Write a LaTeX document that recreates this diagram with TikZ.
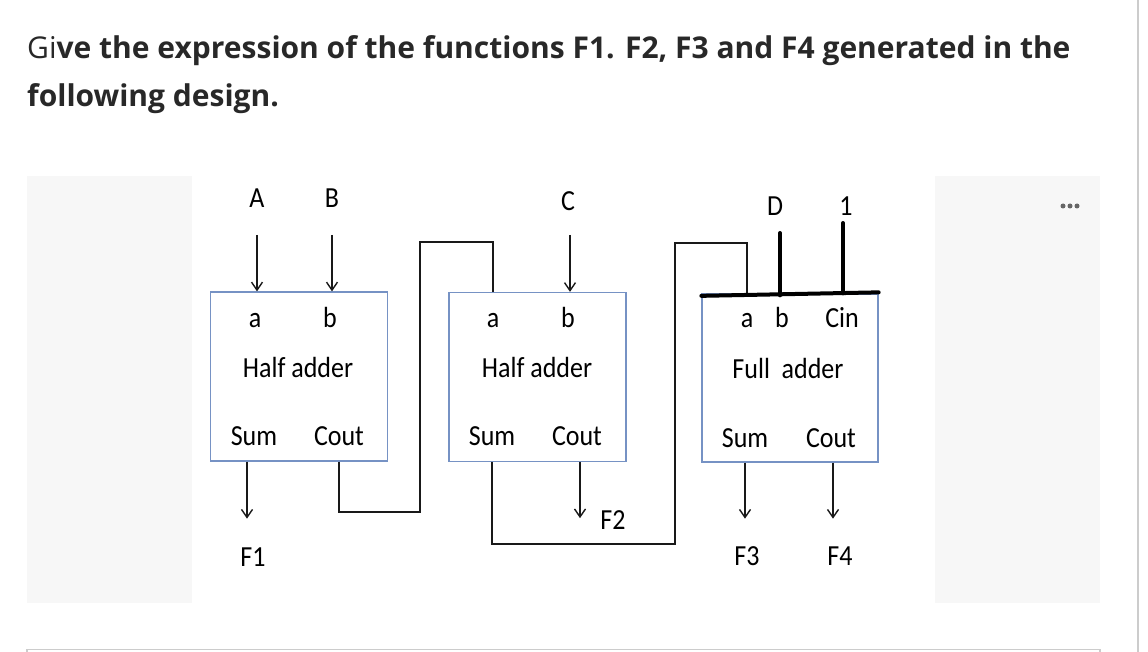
\documentclass[tikz,border=0pt]{standalone}
\usepackage{fontspec}
\setmainfont{Open Sans}
\newfontfamily\diagfont{Carlito}
\usetikzlibrary{positioning,arrows.meta}

\definecolor{boxblue}{RGB}{118,146,196}
\definecolor{panelgray}{RGB}{247,247,247}
\definecolor{rulegray}{RGB}{204,204,204}
\definecolor{titlegray}{RGB}{40,40,40}

\tikzset{
    adder/.style={draw=boxblue, line width=1.3pt, minimum width=177pt, minimum height=169pt, inner sep=0pt},
    lbl/.style={font=\diagfont\fontsize{26}{26}\selectfont, inner sep=0pt, anchor=base, yscale=1.12},
    wire/.style={line width=1.7pt, black!90},
    sig/.style={line width=1.4pt, black!90, -{Straight Barb[length=8pt,width=11pt]}},
    bus/.style={line width=4pt, line cap=round}
}

\begin{document}
\begin{tikzpicture}[x=1pt, y=-1pt]
		\useasboundingbox (0,0) rectangle (1148,652);
		% page background
		\fill[panelgray] (27,176) rectangle (192,603);
		\fill[panelgray] (935,176) rectangle (1100,603);
		\draw[rulegray, line width=1.2pt] (27,653) -- (27,649.5) -- (1100,649.5) -- (1100,653);
		\draw[rulegray, line width=1.5pt] (1138,0) -- (1138,652);
		\foreach \x in {1063,1070,1077}
			\fill[black!60] (\x,206) circle(2.5pt);
		% question
		\node[anchor=base west, inner sep=0pt, text=titlegray, font=\fontsize{30}{30}\selectfont] (title1) at (27,59) {Gi\textbf{ve the expression of the functions F1. F2, F3 and F4 generated in the}};
		\node[anchor=base west, inner sep=0pt, text=titlegray, font=\bfseries\fontsize{30}{30}\selectfont] (title2) at (27,107) {following design.};
		% adders
		\node[adder] (ha1) at (299,376.5) {};
		\node[adder] (ha2) at (537.5,377) {};
		\node[adder, minimum width=176pt, minimum height=168pt] (fa) at (790,378) {};
		\node[lbl] (a1) at (255,327) {a};
		\node[lbl] (b1) at (330,327) {b};
		\node[lbl] (name1) at (298,377) {Half adder};
		\node[lbl] (sum1) at (254,445) {Sum};
		\node[lbl] (cout1) at (339,445) {Cout};
		\node[lbl] (a2) at (493,327) {a};
		\node[lbl] (b2) at (568,327) {b};
		\node[lbl] (name2) at (537,377) {Half adder};
		\node[lbl] (sum2) at (492,445) {Sum};
		\node[lbl] (cout2) at (577,445) {Cout};
		\node[lbl] (a3) at (747,327) {a};
		\node[lbl] (b3) at (782,327) {b};
		\node[lbl] (cin3) at (842,327) {Cin};
		\node[lbl] (name3) at (788,378) {Full\ \ adder};
		\node[lbl] (sum3) at (745,447) {Sum};
		\node[lbl] (cout3) at (831,447) {Cout};
		% inputs and outputs
		\node[lbl] (A) at (257,208) {A};
		\node[lbl] (B) at (332,208) {B};
		\node[lbl] (C) at (568,211) {C};
		\node[lbl] (D) at (775,216) {D};
		\node[lbl] (one) at (846,216) {1};
		\node[lbl] (F1) at (253,566) {F1};
		\node[lbl] (F2) at (613,529) {F2};
		\node[lbl] (F3) at (747,565) {F3};
		\node[lbl] (F4) at (840,565) {F4};
		\draw[sig] ([yshift=-27pt]A.base) -- (A |- ha1.north);
		\draw[sig] ([yshift=-27pt]B.base) -- (B |- ha1.north);
		\draw[sig] ([xshift=2pt,yshift=-24pt]C.base) -- ([xshift=2pt]C |- ha2.north);
		\draw[sig] ([xshift=-6pt]ha1.south -| F1) -- ++(0,57);
		\draw[sig] ([xshift=3pt]ha2.south -| cout2) -- ++(0,56);
		\draw[sig] (fa.south -| sum3) -- ++(0,56);
		\draw[sig] ([xshift=2pt]fa.south -| cout3) -- ++(0,56);
		% carries between the stages
		\coordinate (j1) at (420,512);
		\coordinate (k1) at (420,242);
		\draw[wire] (ha1.south -| cout1) |- (j1) -- (k1) -| (ha2.north -| a2);
		\coordinate (j2) at (675,544);
		\coordinate (k2) at (675,243);
		\draw[wire] (ha2.south -| sum2) |- (j2) -- (k2) -| (fa.north -| a3);
		% full adder inputs
		\draw[bus] ([yshift=-2.5pt]fa.north west) -- ([yshift=1pt]fa.north east);
		\draw[bus] ([xshift=5pt,yshift=-17pt]D.base) -- ([xshift=5pt,yshift=-2pt]D.base |- fa.north);
		\draw[bus] ([xshift=-3pt,yshift=-7pt]one.base) -- ([xshift=-3pt]one.base |- fa.north);
	\end{tikzpicture}
\end{document}
